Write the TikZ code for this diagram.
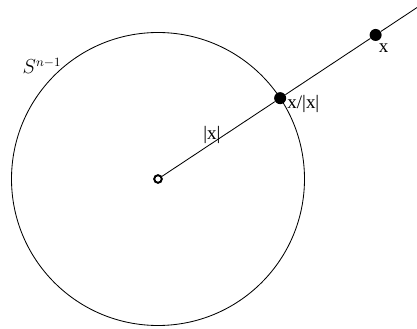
\documentclass[tikz,border=0pt]{standalone}
\usepackage{fontspec}
\setmainfont{Liberation Serif}
\usepackage{tikz}
\usetikzlibrary{calc, positioning}

\begin{document}
\begin{tikzpicture}[
    x=0.025cm, y=0.025cm,
    dot/.style={circle, fill=black, inner sep=0pt, minimum size=0.3cm},
    hole/.style={circle, draw=black, fill=white, line width=1.4pt,
                 inner sep=0pt, minimum size=0.19cm},
    lbl/.style={font=\fontsize{13.5}{15}\selectfont, inner sep=0pt},
]
    \useasboundingbox (-158,-150) rectangle (259,179);

    % Sphere
    \draw[line width=0.6pt] (0,0) circle (146.5);

    % Ray
    \coordinate (tip) at (33.5:313);
    \node[hole] (o) at (0,0) {};
    \node[dot] (u) at (33.5:146.5) {};
    \node[dot] (p) at (33.5:261) {};
    \draw[line width=0.6pt] (o) -- (u);
    \draw[line width=0.6pt] (u) -- (p);
    \draw[line width=0.6pt] (p) -- (tip);

    % Labels
    \node[lbl] (plab) at ($(p)+(8,-13)$) {x};
    \node[lbl, anchor=west] (ulab) at ($(u)+(7,-6)$) {x/|x|};
    \node[lbl] (rlab) at (54,44) {|x|};
    \node[lbl] (slab) at (-116,113) {$S^{n-1}$};
\end{tikzpicture}
\end{document}
